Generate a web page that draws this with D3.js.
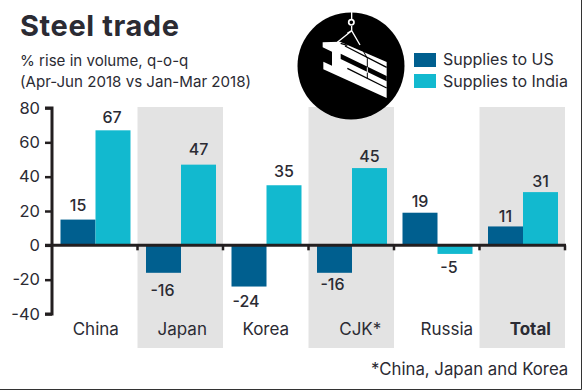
<!DOCTYPE html>
<html><head><meta charset="utf-8">
<style>html,body{margin:0;padding:0;background:#fff}svg{display:block}text{font-family:Inter,"Noto Sans",sans-serif;fill:#2b2b33}</style>
<script src="https://cdn.jsdelivr.net/npm/d3@7"></script></head>
<body><svg id="c" width="583" height="390"></svg>
<script>
const categories=["China","Japan","Korea","CJK*","Russia","Total"];
const supplies=["Supplies to US","Supplies to India"];
const usValues=[15,-16,-24,-16,19,11];
const indiaValues=[67,47,35,45,-5,31];
const yTicks=[80,60,40,20,0,-20,-40];
const shaded=["Japan","CJK*","Total"];
const colors=["#005f8f","#12b9cf"];
// hand placement of the labels, as in the reference
const catShift=[1,2,0,9,10,8];
const labelNudge=[[[0,-2],[-1,0]],[[2,0],[0,-3]],[[0,-3],[0,-1]],[[1,-6],[0,1]],[[0,1],[-3,-4]],[[0,3],[0,2]]];
const svg=d3.select("#c");
const y=d3.scaleLinear().domain([-40,80]).range([314,108]);
const x=d3.scaleBand().domain(categories).range([52,565]);
const s=d3.scaleBand().domain(supplies).range([8.5,78.5]);
const ink="#231f20";
svg.append("path").attr("d","M0 389.5H581.5V0").attr("fill","none").attr("stroke","#333").attr("stroke-width",1);
svg.selectAll(".band").data(shaded).join("rect").attr("x",d=>x(d)).attr("width",x.bandwidth()).attr("y",107).attr("height",241).attr("fill","#e3e3e3");
supplies.forEach((name,i)=>{
  const vals=i?indiaValues:usValues;
  svg.selectAll(".b"+i).data(categories).join("rect")
    .attr("x",d=>x(d)+s(name)).attr("width",s.bandwidth())
    .attr("y",(d,j)=>y(Math.max(0,vals[j]))).attr("height",(d,j)=>Math.abs(y(vals[j])-y(0))).attr("fill",colors[i]);
  svg.selectAll(".l"+i).data(categories).join("text")
    .attr("x",(d,j)=>x(d)+s(name)+s.bandwidth()/2+labelNudge[j][i][0]-(vals[j]<0?3:0))
    .attr("y",(d,j)=>(vals[j]>=0?y(vals[j])-7:y(vals[j])+23)+labelNudge[j][i][1])
    .attr("text-anchor","middle").attr("font-size",16).attr("font-weight",500)
    .text((d,j)=>vals[j]);
});
const ya=d3.axisLeft(y).tickValues(yTicks).tickSize(7).tickPadding(5).tickFormat(d=>d);
const g=svg.append("g").attr("transform","translate(52,0)").call(ya);
g.select(".domain").attr("stroke",ink).attr("stroke-width",3).attr("d","M-7 "+y(80)+"H0V"+y(-40)+"H-7");
g.selectAll("line").attr("stroke",ink).attr("stroke-width",2.5);
g.selectAll("text").attr("font-size",16.5).attr("font-family","Inter,sans-serif");
const edges=categories.map(c=>x(c)+x.bandwidth());
const xg=svg.append("g").attr("transform","translate(0,"+y(0)+")").call(d3.axisBottom(x).tickValues(categories).tickSize(0).tickFormat(""));
xg.select(".domain").attr("stroke",ink).attr("stroke-width",3).attr("d","M45 0H566");
xg.selectAll("line.e").data(edges).join("line").attr("class","e").attr("x1",d=>d).attr("x2",d=>d).attr("y1",0).attr("y2",5).attr("stroke",ink).attr("stroke-width",2.5);
svg.selectAll(".cat").data(categories).join("text").attr("x",(d,i)=>x(d)+x.bandwidth()/2+catShift[i]).attr("y",335)
  .attr("text-anchor","middle").attr("font-size",17).attr("font-weight",d=>d==="Total"?700:400).text(d=>d);
svg.append("text").attr("x",20).attr("y",36).attr("font-size",29).attr("font-weight",700).attr("letter-spacing",0.6).text("Steel trade");
svg.append("text").attr("x",20).attr("y",66).attr("font-size",15.1).text("% rise in volume, q-o-q");
svg.append("text").attr("x",20).attr("y",87).attr("font-size",15.1).text("(Apr-Jun 2018 vs Jan-Mar 2018)");
svg.append("text").attr("x",371).attr("y",375).attr("font-size",16.8).text("*China, Japan and Korea");
supplies.forEach((n,i)=>{
  svg.append("rect").attr("x",414).attr("y",53+21*i).attr("width",22).attr("height",14).attr("fill",colors[i]);
  svg.append("text").attr("x",443).attr("y",65+22*i).attr("font-size",16).text(n);
});
// crane icon, drawn in the units of a 3x crop placed at (310,10)
svg.append("circle").attr("cx",351).attr("cy",66).attr("r",53.5).attr("fill","#000");
const ic=svg.append("g").attr("transform","translate(310,10) scale(0.3333)");
ic.append("path").attr("fill","#fff").attr("d","M38 97L90 95L230 156V264L40 178V155L66 167V125L38 112Z");
ic.append("path").attr("fill","#000").attr("d","M92 131L230 198V214L92 147Z");
ic.append("path").attr("stroke","#000").attr("stroke-width",4).attr("fill","none").attr("d","M105 108L230 172M112 175L230 234M92 100L112 106");
ic.append("path").attr("stroke","#fff").attr("stroke-width",4).attr("fill","none").attr("d","M125 0V28M125 48V62L112 70M125 62L82 97M125 62L150 105");
ic.append("circle").attr("cx",124).attr("cy",37).attr("r",8).attr("fill","none").attr("stroke","#fff").attr("stroke-width",5);
ic.append("path").attr("stroke","#000").attr("stroke-width",3).attr("fill","none").attr("d","M150 105L172 145V172");
ic.append("path").attr("stroke","#fff").attr("stroke-width",3).attr("fill","none").attr("d","M172 172V188");
ic.append("path").attr("stroke","#000").attr("stroke-width",3).attr("fill","none").attr("d","M172 188V206");
</script></body></html>
